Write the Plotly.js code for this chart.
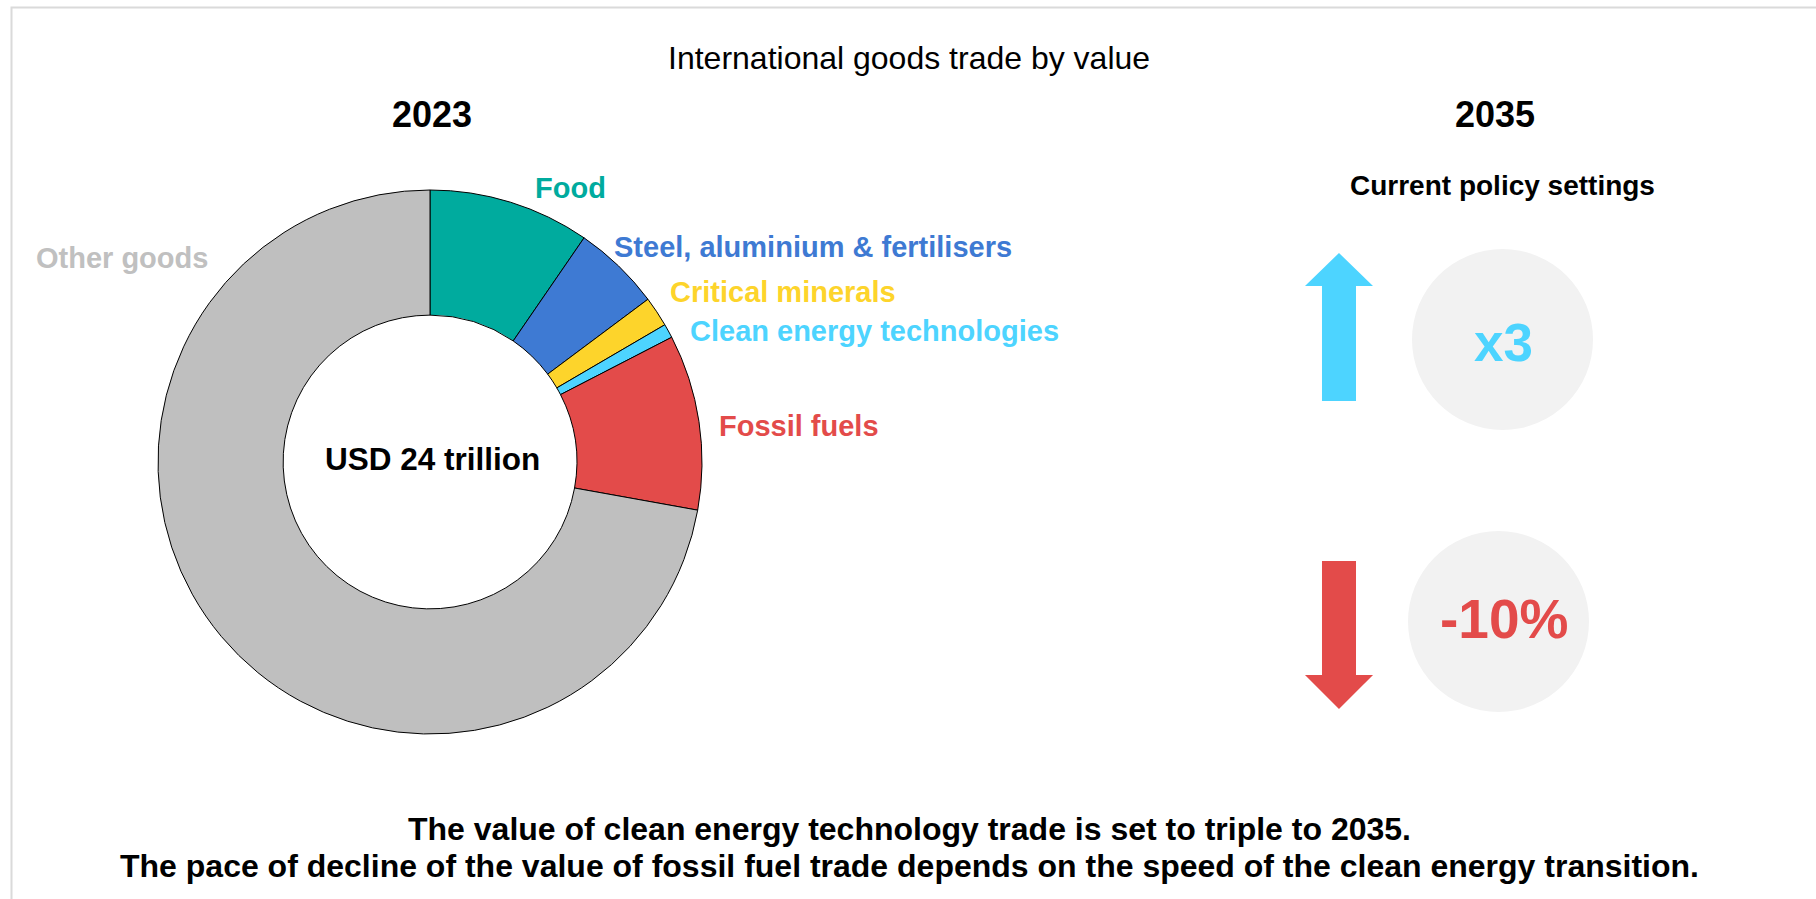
<!DOCTYPE html>
<html>
<head>
<meta charset="utf-8">
<script src="https://cdn.plot.ly/plotly-3.0.1.min.js"></script>
<style>
  html, body { margin: 0; padding: 0; background: #ffffff; }
  #chart { width: 1816px; height: 899px; }
</style>
</head>
<body>
<div id="chart"></div>
<script>
// ---- Data (USD trillion, 2023) ----
const categories = ["Food", "Steel, aluminium & fertilisers", "Critical minerals", "Clean energy technologies", "Fossil fuels", "Other goods"];
const values2023 = [2.3, 1.25, 0.43, 0.2, 2.5, 17.32];
const sliceColors = ["#00ab9e", "#3e7ad3", "#fdd42b", "#4dd4ff", "#e34b4a", "#bfbfbf"];
const totalLabel = "USD 24 trillion";
const yearLabels = ["2023", "2035"];
const scenarioLabel = "Current policy settings";
const changeLabels = ["x3", "-10%"];
const changeColors = ["#4dd4ff", "#e34b4a"];
const chartTitle = "International goods trade by value";
const footnoteLines = [
  "The value of clean energy technology trade is set to triple to 2035.",
  "The pace of decline of the value of fossil fuel trade depends on the speed of the clean energy transition."
];

// ---- Layout helpers (pixel -> paper) ----
const W = 1816, H = 899;
const px = x => x / W;
const py = y => 1 - y / H;
const FONT = "'Liberation Sans', Arial, sans-serif";

// Pie geometry
const cx = 430, cy = 462, R = 272;

const trace = {
  type: "pie",
  labels: categories,
  values: values2023,
  sort: false,
  direction: "clockwise",
  rotation: 0,
  hole: 0.54,
  textinfo: "none",
  hoverinfo: "label+value",
  marker: { colors: sliceColors, line: { color: "#000000", width: 1 } },
  domain: { x: [px(cx - R), px(cx + R)], y: [py(cy + R), py(cy - R)] },
  showlegend: false
};

// Label positions for the slices (pixel anchors)
const labelPos = [
  { x: 533, y: 188, anchor: "left" },
  { x: 612, y: 247, anchor: "left" },
  { x: 668, y: 292, anchor: "left" },
  { x: 688, y: 331, anchor: "left" },
  { x: 717, y: 426, anchor: "left" },
  { x: 210, y: 258, anchor: "right" }
];

const annotations = [];
categories.forEach((c, i) => {
  annotations.push({
    xref: "paper", yref: "paper",
    x: px(labelPos[i].x), y: py(labelPos[i].y),
    xanchor: labelPos[i].anchor, yanchor: "middle",
    text: "<b>" + c + "</b>",
    showarrow: false,
    font: { family: FONT, size: 29, color: sliceColors[i] === "#bfbfbf" ? "#c0c0c0" : sliceColors[i] }
  });
});

// Centre total
annotations.push({
  xref: "paper", yref: "paper", x: px(cx + 2), y: py(459),
  xanchor: "center", yanchor: "middle",
  text: "<b>" + totalLabel + "</b>", showarrow: false,
  font: { family: FONT, size: 31.5, color: "#000000" }
});

// Title
annotations.push({
  xref: "paper", yref: "paper", x: px(909), y: py(58),
  xanchor: "center", yanchor: "middle",
  text: chartTitle, showarrow: false,
  font: { family: FONT, size: 32, color: "#000000" }
});

// Year headers
annotations.push({
  xref: "paper", yref: "paper", x: px(432), y: py(115),
  xanchor: "center", yanchor: "middle",
  text: "<b>" + yearLabels[0] + "</b>", showarrow: false,
  font: { family: FONT, size: 36, color: "#000000" }
});
annotations.push({
  xref: "paper", yref: "paper", x: px(1495), y: py(115),
  xanchor: "center", yanchor: "middle",
  text: "<b>" + yearLabels[1] + "</b>", showarrow: false,
  font: { family: FONT, size: 36, color: "#000000" }
});

// Scenario subtitle
annotations.push({
  xref: "paper", yref: "paper", x: px(1502), y: py(186),
  xanchor: "center", yanchor: "middle",
  text: "<b>" + scenarioLabel + "</b>", showarrow: false,
  font: { family: FONT, size: 28, color: "#000000" }
});

// Change values in circles
const circleCentres = [{ x: 1503, y: 343 }, { x: 1504, y: 619 }];
const changeSizes = [53, 55];
changeLabels.forEach((t, i) => {
  annotations.push({
    xref: "paper", yref: "paper", x: px(circleCentres[i].x), y: py(circleCentres[i].y),
    xanchor: "center", yanchor: "middle",
    text: "<b>" + t + "</b>", showarrow: false,
    font: { family: FONT, size: changeSizes[i], color: changeColors[i] }
  });
});

// Footnote
footnoteLines.forEach((t, i) => {
  annotations.push({
    xref: "paper", yref: "paper", x: px(909), y: py(829 + i * 37),
    xanchor: "center", yanchor: "middle",
    text: "<b>" + t + "</b>", showarrow: false,
    font: { family: FONT, size: 32, color: "#000000" }
  });
});

// Shapes: frame, circles, arrows
function pathFrom(points) {
  return points.map((p, i) => (i === 0 ? "M" : "L") + px(p[0]).toFixed(5) + "," + py(p[1]).toFixed(5)).join(" ") + " Z";
}
const shapes = [
  {
    type: "path", xref: "paper", yref: "paper",
    path: "M" + px(11.5) + "," + py(899) + " L" + px(11.5) + "," + py(7.5) + " L" + px(1816) + "," + py(7.5),
    line: { color: "#dadada", width: 2 }
  },
  {
    type: "circle", xref: "paper", yref: "paper",
    x0: px(1412), x1: px(1593), y0: py(430), y1: py(249),
    fillcolor: "#f2f2f2", line: { width: 0 }, layer: "below"
  },
  {
    type: "circle", xref: "paper", yref: "paper",
    x0: px(1408), x1: px(1589), y0: py(712), y1: py(531),
    fillcolor: "#f2f2f2", line: { width: 0 }, layer: "below"
  },
  {
    type: "path", xref: "paper", yref: "paper",
    path: pathFrom([[1339, 253], [1373, 286], [1356, 286], [1356, 401], [1322, 401], [1322, 286], [1305, 286]]),
    fillcolor: changeColors[0], line: { width: 0 }
  },
  {
    type: "path", xref: "paper", yref: "paper",
    path: pathFrom([[1322, 561], [1356, 561], [1356, 675], [1373, 675], [1339, 709], [1305, 675], [1322, 675]]),
    fillcolor: changeColors[1], line: { width: 0 }
  }
];

const layout = {
  width: W, height: H,
  margin: { l: 0, r: 0, t: 0, b: 0 },
  paper_bgcolor: "#ffffff",
  plot_bgcolor: "#ffffff",
  showlegend: false,
  annotations: annotations,
  shapes: shapes,
  font: { family: FONT }
};

Plotly.newPlot("chart", [trace], layout, { displayModeBar: false });
</script>
</body>
</html>
